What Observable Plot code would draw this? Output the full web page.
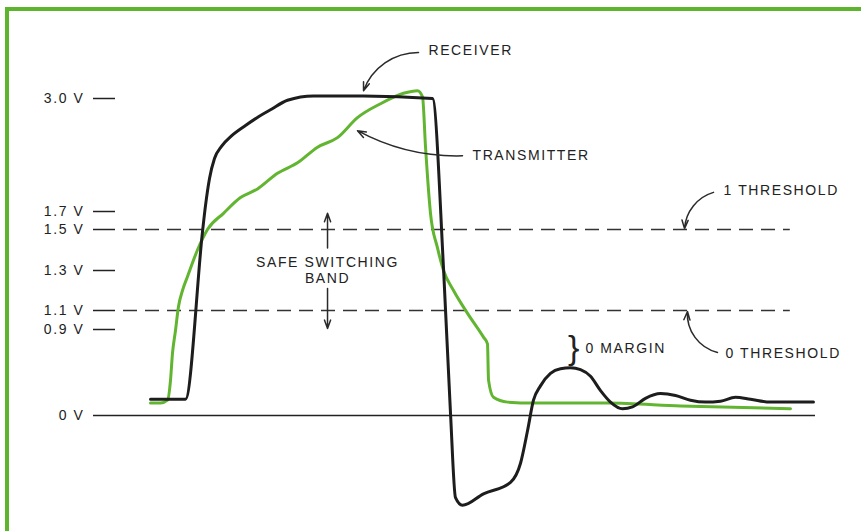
<!DOCTYPE html>
<html><head><meta charset="utf-8">
<script src="https://cdn.jsdelivr.net/npm/d3@7"></script>
<script src="https://cdn.jsdelivr.net/npm/@observablehq/plot@0.6"></script>
<style>
html,body{margin:0;padding:0;background:#fff;}
#wrap{position:relative;width:861px;height:531px;overflow:hidden;background:#fff;}
#wrap svg{position:absolute;left:0;top:0;}
#border{position:absolute;left:5px;top:7px;right:-10px;bottom:-10px;border-left:4px solid #5cb52c;border-top:4px solid #5cb52c;pointer-events:none;}
#wrap svg text{letter-spacing:1.6px;}
</style></head><body><div id="wrap"><div id="border"></div></div>
<script>
// ---- data (time in arbitrary units 0..100, voltage in V) ----
const yTicks = [3.0, 1.7, 1.5, 1.3, 1.1, 0.9, 0];
const thresholds = [1.5, 1.1];
const thresholdEndT = [96.4, 96.4];

const receiverT = [5.0,10.0,12.43,12.86,13.43,14.14,15.14,16.57,18.57,20.43,22.14,24.57,28.29,35.43,45.29,46.86,47.86,48.57,49.57,52.57,56.43,57.86,58.86,59.71,60.71,62.14,63.57,65.0,66.43,67.86,69.29,70.71,72.43,73.86,75.71,77.86,80.0,82.14,84.29,86.43,88.57,90.71,93.57,99.71];
const receiverV = [0.17,0.17,1.49,1.77,2.08,2.31,2.45,2.57,2.69,2.79,2.87,2.98,3.03,3.03,3.0,1.31,0.02,-0.86,-0.94,-0.82,-0.70,-0.50,-0.16,0.16,0.31,0.44,0.49,0.50,0.48,0.41,0.26,0.14,0.07,0.09,0.18,0.23,0.21,0.16,0.14,0.15,0.19,0.17,0.14,0.14];

const transmitterT = [5.0,6.43,7.43,7.86,8.14,8.57,9.0,9.57,10.29,11.71,13.14,15.43,17.86,20.29,23.14,26.0,28.86,31.71,34.57,37.86,41.14,43.14,43.86,44.29,45.0,46.0,46.86,48.29,50.29,52.57,53.14,53.29,54.0,56.0,59.71,70.29,80.71,96.43];
const transmitterV = [0.13,0.13,0.16,0.37,0.65,0.89,1.12,1.20,1.27,1.40,1.50,1.68,1.86,1.96,2.14,2.26,2.44,2.55,2.78,2.94,3.06,3.09,3.02,2.44,1.68,1.41,1.30,1.20,1.07,0.82,0.75,0.37,0.19,0.14,0.13,0.13,0.10,0.07];

// annotation labels
const leftLabels = ["RECEIVER","TRANSMITTER","1 THRESHOLD","0 THRESHOLD","0 MARGIN"];
const leftLabelT = [44.71, 51.0, 86.86, 87.14, 67.14];
const leftLabelV = [3.55, 2.34, 1.94, 0.65, 0.70];
const bandLabels = ["SAFE SWITCHING","BAND"];
const bandLabelT = [30.29, 30.29];
const bandLabelV = [1.34, 1.26];
const braceT = [65.57];
const braceV = [0.71];

// annotation arrows
const arrowFromT = [43.29, 49.57, 85.43, 86.0, 30.29, 30.29];
const arrowFromV = [3.53, 2.34, 1.92, 0.66, 1.41, 1.21];
const arrowToT   = [35.43, 34.57, 81.29, 81.71, 30.29, 30.29];
const arrowToV   = [3.09, 2.63, 1.51, 1.09, 1.68, 0.91];
const arrowBend  = [-35, 15, -35, 40, 0, 0];

// non-uniform voltage axis of the original figure (volts -> height units)
const voltStops = [0, 0.9, 1.1, 1.3, 1.5, 1.7, 3.0];
const heightStops = [0, 86, 105, 145, 186, 204, 317];
const warp = d3.scaleLinear().domain(voltStops).range(heightStops);

// ---- tables ----
const receiver = receiverT.map((t,i)=>({t, v: receiverV[i]}));
const transmitter = transmitterT.map((t,i)=>({t, v: transmitterV[i]}));
const leftLab = leftLabels.map((s,i)=>({s, t: leftLabelT[i], v: leftLabelV[i]}));
const bandLab = bandLabels.map((s,i)=>({s, t: bandLabelT[i], v: bandLabelV[i]}));
const brace = braceT.map((t,i)=>({t, v: braceV[i]}));
const thr = thresholds.map((v,i)=>({v, t2: thresholdEndT[i]}));
const arrows = arrowFromT.map((t,i)=>({x1:t, y1:arrowFromV[i], x2:arrowToT[i], y2:arrowToV[i], bend:arrowBend[i]}));

const FONT = "'Liberation Sans',Arial,sans-serif";
const INK = "#222";
const fmtV = h => { const v = Math.round(warp.invert(h) * 10) / 10; return v === 0 ? "0 V" : v.toFixed(1) + " V"; };

const plot = Plot.plot({
  width: 861, height: 531,
  marginLeft: 115, marginRight: 46, marginTop: 20, marginBottom: 20,
  style: {fontFamily: FONT, fontSize: "14px", color: INK, background: "transparent"},
  x: {domain: [0, 100], axis: null},
  y: {transform: warp, domain: [0, 317], range: [415, 98], axis: null},
  marks: [
    Plot.axisY({ticks: yTicks.map(v => warp(v)), tickSize: 22, tickPadding: 9, strokeWidth: 1.5, stroke: INK,
      tickFormat: fmtV, fontSize: 14}),
    Plot.ruleY([0], {stroke: INK, strokeWidth: 1.5}),
    Plot.ruleY(thr, {y: "v", x1: 0, x2: "t2", stroke: "#333", strokeWidth: 1.5, strokeDasharray: "14,8", strokeDashoffset: 14}),
    Plot.line(transmitter, {x: "t", y: "v", stroke: "#62b530", strokeWidth: 3, curve: "monotone-x"}),
    Plot.line(receiver, {x: "t", y: "v", stroke: "#1d1d1d", strokeWidth: 3, curve: "monotone-x"}),
    ...arrows.map(a => Plot.arrow([a], {x1: "x1", y1: "y1", x2: "x2", y2: "y2", bend: a.bend,
      stroke: "#2a2a2a", strokeWidth: 1.5, headLength: 9, headAngle: 40})),
    Plot.text(leftLab, {x: "t", y: "v", text: "s", textAnchor: "start", fill: INK, fontSize: 14}),
    Plot.text(bandLab, {x: "t", y: "v", text: "s", textAnchor: "middle", fill: INK, fontSize: 14}),
    Plot.text(brace, {x: "t", y: "v", text: () => "}", fill: INK, fontSize: 34})
  ]
});
document.getElementById("wrap").append(plot);
</script>
</body></html>
